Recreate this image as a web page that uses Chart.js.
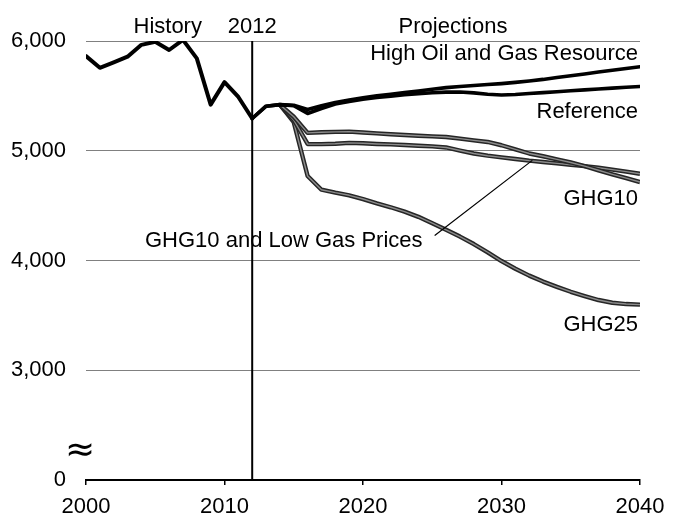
<!DOCTYPE html>
<html>
<head>
<meta charset="utf-8">
<script src="https://cdn.jsdelivr.net/npm/chart.js@4/dist/chart.umd.min.js"></script>
<style>
  html, body { margin: 0; padding: 0; background: #fff; }
  canvas { display: block; }
</style>
</head>
<body>
<canvas id="c" width="677" height="517"></canvas>
<script>
// ---- Data (million metric tons CO2) ----
const historyYears  = [2000,2001,2002,2003,2004,2005,2006,2007,2008,2009,2010,2011,2012];
const historyValues = [5863,5756,5805,5857,5965,5993,5918,6010,5842,5420,5625,5490,5294];

const projYears = [2012,2013,2014,2015,2016,2017,2018,2019,2020,2021,2022,2023,2024,2025,2026,2027,2028,2029,2030,2031,2032,2033,2034,2035,2036,2037,2038,2039,2040];
const referenceValues = [5294,5406,5420,5410,5340,5385,5425,5450,5470,5485,5498,5510,5520,5528,5534,5535,5527,5515,5508,5513,5522,5530,5538,5546,5555,5563,5571,5578,5585];
const highOilGasValues = [5294,5406,5420,5415,5376,5410,5440,5462,5482,5500,5515,5530,5545,5560,5575,5585,5595,5603,5612,5623,5636,5650,5667,5684,5700,5717,5733,5750,5765];

const ghgYears = [2014,2015,2016,2017,2018,2019,2020,2021,2022,2023,2024,2025,2026,2027,2028,2029,2030,2031,2032,2033,2034,2035,2036,2037,2038,2039,2040];
const ghg10Values = [5420,5310,5163,5168,5172,5174,5166,5158,5150,5143,5137,5131,5125,5110,5095,5080,5050,5012,4975,4950,4922,4893,4860,4822,4785,4750,4715];
const ghg10LowGasValues = [5420,5280,5062,5060,5064,5072,5068,5062,5058,5052,5046,5040,5030,5002,4975,4955,4940,4925,4910,4898,4885,4872,4860,4845,4828,4810,4790];
const ghg25Values = [5420,5260,4770,4645,4618,4594,4560,4520,4485,4445,4398,4340,4280,4218,4150,4075,3995,3925,3862,3808,3760,3715,3676,3640,3615,3603,3598];

// y axis is broken: the bottom tick (drawn at 2000) represents 0
const yTickValues = [2000,3000,4000,5000,6000];
const yTickLabels = ['0','3,000','4,000','5,000','6,000'];
const xTickValues = [2000,2010,2020,2030,2040];

const divider = [{x:2012, y:2000},{x:2012, y:6000}];
const leader  = [{x:2025.2, y:4230},{x:2032.2, y:4910}];

const labelTexts = {
  history: 'History', year: '2012', proj: 'Projections',
  high: 'High Oil and Gas Resource', ref: 'Reference',
  ghg10: 'GHG10', ghg25: 'GHG25', lowgas: 'GHG10 and Low Gas Prices'
};

// ---- helpers ----
const pts = (xs, ys) => xs.map((x, i) => ({x, y: ys[i]}));
const FONT = '"Liberation Sans", Arial, Helvetica, sans-serif';

function blackLine(data, w) {
  return { data, borderColor: '#000', borderWidth: w, pointRadius: 0, tension: 0, fill: false, borderJoinStyle: 'round', borderCapStyle: 'round' };
}
function ghgOuter(data) {
  return { data, borderColor: '#262626', borderWidth: 4.4, pointRadius: 0, tension: 0, fill: false, borderJoinStyle: 'round' };
}
function ghgInner(data) {
  return { data, borderColor: '#8c8c8c', borderWidth: 1.4, pointRadius: 0, tension: 0, fill: false, borderJoinStyle: 'round' };
}

const textPlugin = {
  id: 'texts',
  afterDatasetsDraw(chart) {
    const {ctx, chartArea, scales: {x, y}} = chart;
    ctx.save();
    ctx.fillStyle = '#000';
    ctx.font = '22px ' + FONT;
    ctx.textBaseline = 'alphabetic';
    const top = chartArea.top - 8;
    ctx.textAlign = 'center';
    ctx.fillText(labelTexts.history, x.getPixelForValue(2005.9), top);
    ctx.fillText(labelTexts.year, x.getPixelForValue(2012), top);
    ctx.fillText(labelTexts.proj, x.getPixelForValue(2026.5), top);
    ctx.textAlign = 'right';
    const rx = chartArea.right - 2;
    ctx.fillText(labelTexts.high, rx, y.getPixelForValue(5827));
    ctx.fillText(labelTexts.ref, rx, y.getPixelForValue(5294));
    ctx.fillText(labelTexts.ghg10, rx, y.getPixelForValue(4503));
    ctx.fillText(labelTexts.ghg25, rx, y.getPixelForValue(3361));
    ctx.textAlign = 'left';
    ctx.fillText(labelTexts.lowgas, x.getPixelForValue(2004.26), y.getPixelForValue(4124));
    // axis break symbol
    ctx.textAlign = 'center';
    ctx.textBaseline = 'middle';
    ctx.font = '36px "DejaVu Sans", sans-serif';
    ctx.fillText('\u2248', chartArea.left - 6, y.getPixelForValue(2000) - 28);
    ctx.restore();
  }
};

new Chart(document.getElementById('c'), {
  type: 'line',
  data: {
    datasets: [
      blackLine(divider, 2),
      blackLine(leader, 1.2),
      blackLine(pts(historyYears, historyValues), 4),
      blackLine(pts(projYears, highOilGasValues), 3.6),
      blackLine(pts(projYears, referenceValues), 3.6),
      ghgInner(pts(ghgYears, ghg10Values)),
      ghgOuter(pts(ghgYears, ghg10Values)),
      ghgInner(pts(ghgYears, ghg10LowGasValues)),
      ghgOuter(pts(ghgYears, ghg10LowGasValues)),
      ghgInner(pts(ghgYears, ghg25Values)),
      ghgOuter(pts(ghgYears, ghg25Values))
    ]
  },
  options: {
    responsive: false,
    maintainAspectRatio: false,
    animation: false,
    layout: { padding: { top: 41, right: 37, left: 0, bottom: 0 } },
    plugins: { legend: { display: false }, tooltip: { enabled: false } },
    scales: {
      x: {
        type: 'linear', min: 2000, max: 2040,
        afterFit(s) { s.height = 37; },
        afterBuildTicks(s) { s.ticks = xTickValues.map(v => ({value: v})); },
        border: { display: true, color: '#000', width: 2 },
        grid: { display: true, drawOnChartArea: false, drawTicks: true, tickLength: 5, color: '#000', lineWidth: 1.5 },
        ticks: { color: '#000', font: { family: FONT, size: 22 }, padding: 9, maxRotation: 0, callback: v => String(v) }
      },
      y: {
        type: 'linear', min: 2000, max: 6000,
        afterFit(s) { s.width = 86; },
        afterBuildTicks(s) { s.ticks = yTickValues.map(v => ({value: v})); },
        border: { display: false },
        grid: {
          drawTicks: false,
          color: ctx => (ctx.tick && ctx.tick.value === 2000) ? 'rgba(0,0,0,0)' : '#808080',
          lineWidth: 1
        },
        ticks: {
          color: '#000', font: { family: FONT, size: 22 }, padding: 20,
          callback: (v, i) => yTickLabels[i]
        }
      }
    }
  },
  plugins: [textPlugin]
});
</script>
</body>
</html>
